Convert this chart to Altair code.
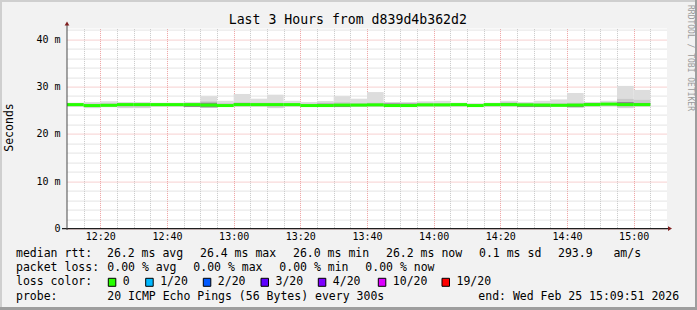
import altair as alt
import pandas as pd

# ---------------- data ----------------
# 5-minute bins, minutes after 12:00 (12:10 ... 15:00)
bin_start_min = list(range(10, 185, 5))
median_ms = [26.2, 26.0, 26.05, 26.2, 26.2, 26.2, 26.2, 26.2, 26.1, 26.0, 26.2, 26.2,
             26.2, 26.2, 26.0, 26.0, 26.1, 26.1, 26.15, 26.0, 26.0, 26.15, 26.15, 26.2,
             26.0, 26.2, 26.2, 26.15, 26.1, 26.05, 26.1, 26.2, 26.3, 26.2, 26.2]
smoke_min_ms = [25.75, 25.45, 25.65, 25.45, 25.45, 25.75, 25.75, 25.65, 25.55, 25.7, 25.75, 25.75,
                25.45, 25.75, 25.7, 25.7, 25.65, 25.75, 25.75, 25.7, 25.7, 25.75, 25.75, 25.75,
                25.7, 25.75, 25.75, 25.65, 25.65, 25.7, 25.6, 25.75, 25.8, 25.45, 25.75]
smoke_max_ms = [26.6, 26.75, 26.9, 26.75, 26.75, 26.6, 26.6, 26.75, 28.0, 27.0, 28.45, 27.45,
                28.3, 27.0, 26.75, 26.95, 28.0, 27.45, 28.85, 26.75, 26.75, 26.9, 27.0, 26.6,
                26.5, 26.6, 27.0, 26.75, 27.0, 27.3, 28.65, 26.75, 27.0, 30.15, 29.3]
mid_lo_ms = [25.85, 25.65, 25.75, 25.6, 25.6, 25.85, 25.85, 25.8, 25.75, 25.8, 25.85, 25.85,
             25.6, 25.85, 25.75, 25.75, 25.75, 25.8, 25.8, 25.75, 25.75, 25.85, 25.85, 25.85,
             25.75, 25.85, 25.85, 25.75, 25.75, 25.75, 25.7, 25.85, 25.95, 25.6, 25.85]
mid_hi_ms = [26.45, 26.4, 26.5, 26.45, 26.4, 26.45, 26.45, 26.5, 26.9, 26.5, 26.7, 26.6,
             26.6, 26.5, 26.4, 26.6, 26.7, 26.5, 26.6, 26.6, 26.55, 26.6, 26.5, 26.45,
             26.3, 26.45, 26.7, 26.5, 26.5, 26.5, 26.6, 26.6, 26.6, 27.4, 27.2]
dark_lo_ms = [26.2, 26.0, 26.05, 26.2, 26.2, 26.2, 26.2, 25.7, 25.6, 26.0, 26.2, 26.2,
              26.2, 26.2, 26.0, 26.0, 25.7, 26.1, 26.15, 26.0, 26.0, 26.15, 26.15, 26.2,
              26.0, 26.2, 26.2, 25.7, 25.7, 26.05, 25.65, 26.2, 26.3, 26.2, 26.2]
dark_hi_ms = [26.2, 26.0, 26.05, 26.2, 26.2, 26.2, 26.2, 26.2, 26.6, 26.0, 26.5, 26.2,
              26.2, 26.2, 26.0, 26.4, 26.1, 26.1, 26.15, 26.45, 26.4, 26.15, 26.15, 26.2,
              26.0, 26.2, 26.55, 26.15, 26.1, 26.05, 26.1, 26.5, 26.3, 26.75, 26.55]

x_grid_min = list(range(15, 190, 5))
y_grid_ms = list(range(0, 43, 2))

title_text = "Last 3 Hours from d839d4b362d2"
row1 = ["median rtt:", "26.2 ms avg", "26.4 ms max", "26.0 ms min", "26.2 ms now",
        "0.1 ms sd", "293.9   am/s"]
row2 = ["packet loss:", "0.00 % avg", "0.00 % max", "0.00 % min", "0.00 % now"]
row3_head = "loss color:"
loss_labels = ["0", "1/20", "2/20", "3/20", "4/20", "10/20", "19/20"]
loss_colors = ["#26ff00", "#00b8ff", "#0059ff", "#5e00ff", "#7e00ff", "#dd00ff", "#ff0000"]
row4 = ["probe:", "20 ICMP Echo Pings (56 Bytes) every 300s", "end: Wed Feb 25 15:09:51 2026"]

# ---------------- layout ----------------
L, T, W, H = 67, 28.6, 600, 200
R, B = 697 - L - W, 310 - T - H
MONO = "DejaVu Sans Mono"
LIGHT, MID, DARK, GREEN = "#dddddd", "#c9c9c9", "#8c8c8c", "#26ff00"
MINOR, MAJOR = "#c8c8c8", "#eea0a0"

df = pd.DataFrame({
    "t0": bin_start_min,
    "t1": [t + 5 for t in bin_start_min],
    "med": median_ms, "smin": smoke_min_ms, "smax": smoke_max_ms,
    "mlo": mid_lo_ms, "mhi": mid_hi_ms, "dlo": dark_lo_ms, "dhi": dark_hi_ms,
})

xs = alt.Scale(domain=[10, 190], nice=False, zero=False)
ys = alt.Scale(domain=[0, 42.26], nice=False, zero=True)

xaxis = alt.Axis(
    values=x_grid_min, grid=True, gridDash=[1, 1], gridWidth=1,
    gridColor={"condition": {"test": "datum.value % 20 == 0", "value": MAJOR}, "value": MINOR},
    labelExpr="datum.value % 20 == 0 ? format(12 + floor(datum.value / 60), 'd') + ':' + format(datum.value % 60, '02d') : ''",
    ticks=False, domain=False, labelFont=MONO, labelFontSize=10, labelColor="#000000",
    labelPadding=3, labelOverlap=False, labelFlush=False, title=None,
)
yaxis = alt.Axis(
    values=y_grid_ms, grid=True, gridDash=[1, 1], gridWidth=1,
    gridColor={"condition": {"test": "datum.value % 10 == 0", "value": MAJOR}, "value": MINOR},
    labelExpr="datum.value % 10 == 0 ? (datum.value == 0 ? '0' : datum.value + ' m') : ''",
    ticks=False, domain=False, labelFont=MONO, labelFontSize=10, labelColor="#000000",
    labelPadding=7, labelOverlap=False, labelFlush=False, title=None,
)

base = alt.Chart(df)
X = alt.X("t0:Q", scale=xs, axis=xaxis)
light = base.mark_rect(color=LIGHT, strokeWidth=0).encode(
    x=X, x2="t1:Q", y=alt.Y("smin:Q", scale=ys, axis=yaxis), y2="smax:Q")
mid = base.mark_rect(color=MID, strokeWidth=0).encode(
    x=X, x2="t1:Q", y=alt.Y("mlo:Q", scale=ys, axis=yaxis), y2="mhi:Q")
dark = base.mark_rect(color=DARK, strokeWidth=0).encode(
    x=X, x2="t1:Q", y=alt.Y("dlo:Q", scale=ys, axis=yaxis), y2="dhi:Q")
median = base.mark_rule(color=GREEN, strokeWidth=3, strokeCap="butt").encode(
    x=X, x2="t1:Q", y=alt.Y("med:Q", scale=ys, axis=yaxis))

one = pd.DataFrame({"k": [0]})


def txt(s, xa, ya, size=11.5, align="left", angle=0, color="#000000"):
    return alt.Chart(one).mark_text(
        text=s.replace(" ", "\u00a0"), font=MONO, fontSize=size, align=align,
        baseline="middle", angle=angle, color=color,
    ).encode(x=alt.value(xa - L), y=alt.value(ya - T))


def hline(x1, x2, ya, color, w):
    return alt.Chart(one).mark_rule(color=color, strokeWidth=w, strokeCap="butt").encode(
        x=alt.value(x1 - L), x2=alt.value(x2 - L), y=alt.value(ya - T))


def vline(xa, y1, y2, color, w):
    return alt.Chart(one).mark_rule(color=color, strokeWidth=w, strokeCap="butt").encode(
        x=alt.value(xa - L), y=alt.value(y1 - T), y2=alt.value(y2 - T))


layers = [light, mid, dark, median]

# axes with arrows
layers.append(hline(62, 668, 228.6, "#1f1f1f", 1.2))
layers.append(vline(67, 230, 25, "#4a4a4a", 1))
layers.append(alt.Chart(one).mark_point(shape="triangle-right", filled=True, color="#801f1f",
                                        size=22, opacity=1, strokeWidth=0).encode(
    x=alt.value(670 - L), y=alt.value(228.6 - T)))
layers.append(alt.Chart(one).mark_point(shape="triangle-up", filled=True, color="#801f1f",
                                        size=22, opacity=1, strokeWidth=0).encode(
    x=alt.value(67 - L), y=alt.value(23.5 - T)))

# frame shading
layers.append(hline(0, 697, 1, "#cfcfcf", 2))
layers.append(vline(1, 0, 310, "#cfcfcf", 2))
layers.append(hline(0, 697, 308.5, "#9e9e9e", 3))
layers.append(vline(696, 0, 310, "#9e9e9e", 2))

# title, axis title, watermark
layers.append(txt(title_text, 347.8, 19.5, size=13.2, align="center"))
layers.append(txt("Seconds", 10, 127.5, size=11.5, align="center", angle=270))
layers.append(txt("RRDTOOL / TOBI OETIKER", 689.5, 58, size=8, align="center", angle=90,
                  color="#9a9a9a"))

# legend rows
row1_x = [16, 107, 200, 293, 386, 479, 558]
for s, xa in zip(row1, row1_x):
    layers.append(txt(s, xa, 254.3))
row2_x = [16, 107.3, 193.3, 279.3, 365.3]
for s, xa in zip(row2, row2_x):
    layers.append(txt(s, xa, 268))
layers.append(txt(row3_head, 16, 282.3))
box_x = [108.3, 145.7, 203.3, 261, 318.3, 378.3, 442]
for lab, col, bx in zip(loss_labels, loss_colors, box_x):
    layers.append(alt.Chart(one).mark_rect(fill=col, stroke="#000000", strokeWidth=1).encode(
        x=alt.value(bx - L), x2=alt.value(bx + 7.5 - L),
        y=alt.value(278.3 - T), y2=alt.value(286.3 - T)))
    layers.append(txt(lab, bx + 14.5, 282.3))
row4_x = [16, 107.3, 478.3]
for s, xa in zip(row4, row4_x):
    layers.append(txt(s, xa, 296.7))

chart = alt.layer(*layers).properties(
    width=W, height=H,
    autosize=alt.AutoSizeParams(type="none"),
    padding={"left": L, "top": T, "right": R, "bottom": B},
    background="#f2f2f2",
).configure_view(strokeWidth=0, fill="#ffffff")

chart.save("out.html", embed_options={"renderer": "svg", "actions": False})
